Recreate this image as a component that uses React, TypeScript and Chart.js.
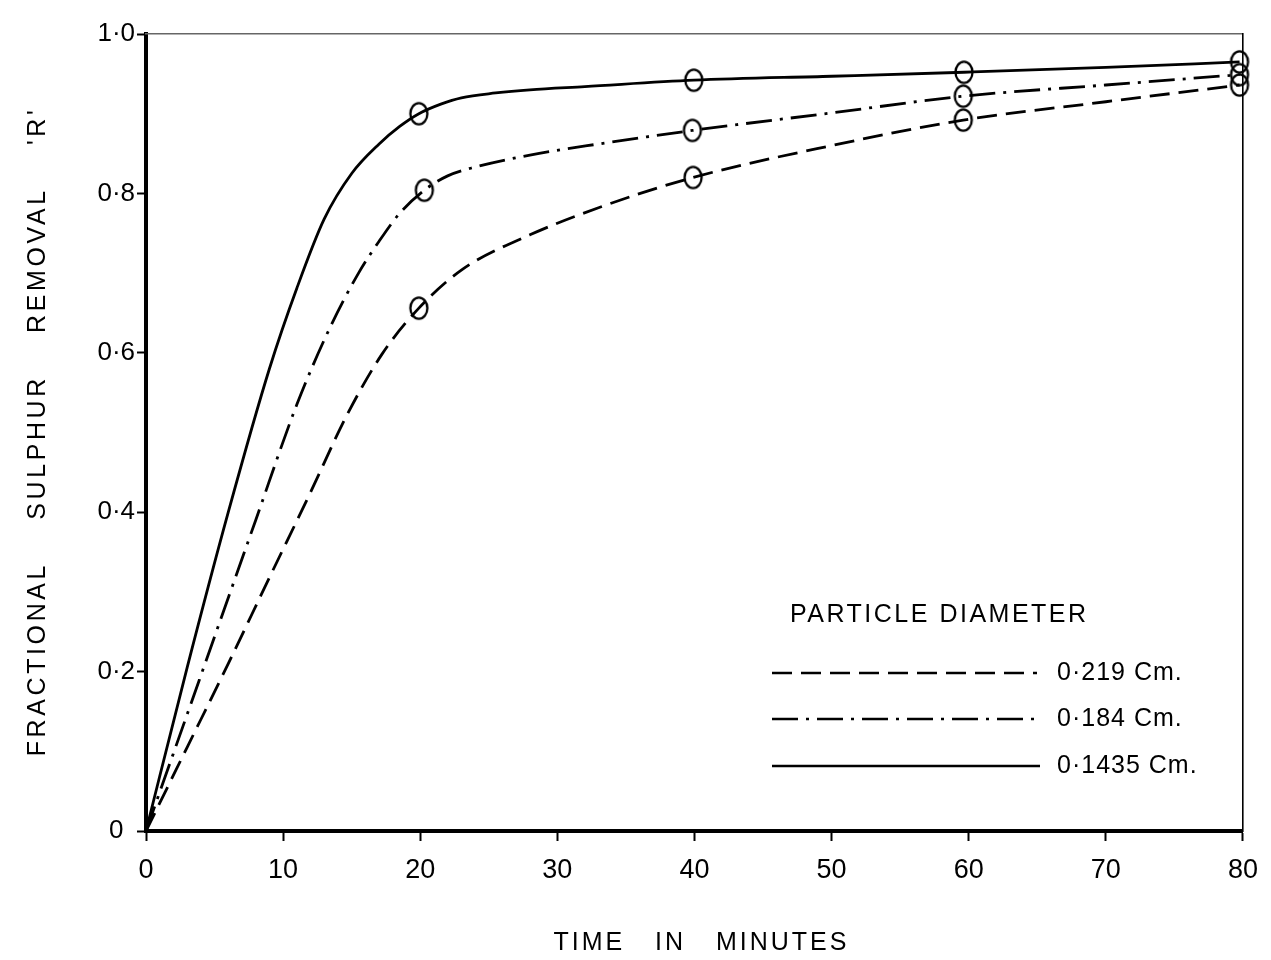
import React, { useEffect, useRef } from "react";
import { Chart, registerables } from "chart.js";

Chart.register(...registerables);

// ---------- data ----------
const xTickValues = [0, 10, 20, 30, 40, 50, 60, 70, 80];
const yTickValues = [0, 0.2, 0.4, 0.6, 0.8, 1.0];
const yTickLabels = ["0", "0·2", "0·4", "0·6", "0·8", "1·0"];

const seriesNames = ["0·219 Cm.", "0·184 Cm.", "0·1435 Cm."];
const legendTitle = "PARTICLE DIAMETER";
const xTitle = "TIME   IN   MINUTES";
const yTitle = "FRACTIONAL    SULPHUR    REMOVAL    'R'";

// measured points (circles)
const timeD219 = [19.9, 39.9, 59.6, 79.75];
const removalD219 = [0.656, 0.82, 0.892, 0.936];
const timeD184 = [20.3, 39.85, 59.6, 79.75];
const removalD184 = [0.804, 0.879, 0.922, 0.949];
const timeD1435 = [19.9, 39.95, 59.65, 79.75];
const removalD1435 = [0.9, 0.942, 0.952, 0.965];

// drawn curves
const curveTimeD219 = [0, 3, 6, 9, 12, 14.6, 17.2, 19.9, 23.1, 28, 33, 39.9, 50, 59.6, 70, 79.75];
const curveRemovalD219 = [0, 0.105, 0.21, 0.318, 0.425, 0.52, 0.598, 0.656, 0.705, 0.748, 0.782, 0.82, 0.86, 0.892, 0.915, 0.936];
const curveTimeD184 = [0, 4, 8, 11, 13.4, 15.5, 17.0, 18.5, 20.3, 22, 24, 28, 33, 39.85, 50, 59.6, 70, 79.75];
const curveRemovalD184 = [0, 0.195, 0.39, 0.535, 0.631, 0.7, 0.74, 0.775, 0.804, 0.822, 0.833, 0.848, 0.862, 0.879, 0.901, 0.922, 0.936, 0.949];
const curveTimeD1435 = [0, 3, 6, 9, 11, 13, 15, 17, 18.5, 19.9, 21.5, 23, 25.5, 28, 32, 39.95, 50, 59.65, 70, 79.75];
const curveRemovalD1435 = [0, 0.205, 0.4, 0.58, 0.681, 0.768, 0.825, 0.862, 0.884, 0.9, 0.912, 0.92, 0.926, 0.93, 0.934, 0.942, 0.947, 0.952, 0.958, 0.965];

// ---------- styles ----------
const FONT = "'Liberation Sans', Arial, sans-serif";
const DASH_219 = [20, 9];
const DASH_184 = [26, 8, 3, 8];
const DASH_1435: number[] = [];

function zip(xs: number[], ys: number[]) {
  return xs.map((x, i) => ({ x, y: ys[i] }));
}

function makeEllipse(): HTMLCanvasElement {
  const c = document.createElement("canvas");
  c.width = 22;
  c.height = 26;
  const g = c.getContext("2d")!;
  g.lineWidth = 2.3;
  g.strokeStyle = "#000";
  g.beginPath();
  g.ellipse(11, 13, 8.5, 10.6, 0, 0, Math.PI * 2);
  g.stroke();
  return c;
}

const overlayPlugin = {
  id: "overlay",
  afterDraw(chart: any) {
    const ctx = chart.ctx as CanvasRenderingContext2D;
    const { left, right, top, bottom } = chart.chartArea;
    ctx.save();
    ctx.fillStyle = "#000";
    ctx.strokeStyle = "#000";
    (ctx as any).letterSpacing = "3px";
    ctx.font = `25px ${FONT}`;
    ctx.textBaseline = "middle";

    // x title
    ctx.textAlign = "center";
    ctx.fillText(xTitle, (left + right) / 2 + 7, bottom + 112);

    // y title
    (ctx as any).letterSpacing = "3.6px";
    ctx.save();
    ctx.translate(38, (top + bottom) / 2 - 1);
    ctx.rotate(-Math.PI / 2);
    ctx.fillText(yTitle, 0, 0);
    ctx.restore();

    // legend
    (ctx as any).letterSpacing = "2.5px";
    ctx.textAlign = "left";
    ctx.fillText(legendTitle, left + 644, top + 581);
    (ctx as any).letterSpacing = "1px";
    const dashes = [DASH_219, DASH_184, DASH_1435];
    const rows = [top + 639, top + 685, top + 732];
    const lineEnds = [left + 891, left + 894, left + 894];
    seriesNames.forEach((name, i) => {
      ctx.save();
      ctx.lineWidth = 2.6;
      ctx.setLineDash(dashes[i]);
      ctx.beginPath();
      ctx.moveTo(left + 626, rows[i]);
      ctx.lineTo(lineEnds[i], rows[i]);
      ctx.stroke();
      ctx.restore();
      ctx.fillText(name, left + 911, rows[i]);
    });
    ctx.restore();
  },
};

export default function App() {
  const ref = useRef<HTMLCanvasElement | null>(null);

  useEffect(() => {
    document.body.style.margin = "0";
    const canvas = ref.current;
    if (!canvas) return;
    const marker = makeEllipse();

    const curve = (label: string, xs: number[], ys: number[], dash: number[]) => ({
      type: "line" as const,
      label,
      data: zip(xs, ys),
      borderColor: "#000",
      borderWidth: 2.8,
      borderDash: dash,
      pointRadius: 0,
      fill: false,
      cubicInterpolationMode: "monotone" as const,
      xAxisID: "x",
      yAxisID: "y",
    });
    const points = (label: string, xs: number[], ys: number[]) => ({
      type: "scatter" as const,
      label,
      data: zip(xs, ys),
      pointStyle: marker,
      pointRadius: 11,
      showLine: false,
      clip: false,
      xAxisID: "x",
      yAxisID: "y",
    });

    const chart = new Chart(canvas, {
      type: "line",
      data: {
        datasets: [
          curve(seriesNames[0], curveTimeD219, curveRemovalD219, DASH_219),
          curve(seriesNames[1], curveTimeD184, curveRemovalD184, DASH_184),
          curve(seriesNames[2], curveTimeD1435, curveRemovalD1435, DASH_1435),
          points(seriesNames[0], timeD219, removalD219),
          points(seriesNames[1], timeD184, removalD184),
          points(seriesNames[2], timeD1435, removalD1435),
        ] as any,
      },
      options: {
        responsive: false,
        animation: false,
        devicePixelRatio: 1,
        layout: { padding: 0 },
        plugins: {
          legend: { display: false },
          tooltip: { enabled: false },
        },
        scales: {
          x: {
            type: "linear",
            position: "bottom",
            min: 0,
            max: 80,
            afterBuildTicks: (s: any) => {
              s.ticks = xTickValues.map((v) => ({ value: v }));
            },
            afterFit: (s: any) => {
              s.height = 129;
            },
            grid: { drawOnChartArea: false, drawTicks: true, tickLength: 10, tickWidth: 2, tickColor: "#000" },
            border: { display: true, color: "#000", width: 4 },
            ticks: {
              color: "#000",
              font: { family: FONT, size: 27 },
              padding: 13,
              maxRotation: 0,
              autoSkip: false,
              callback: (v: any) => String(v),
            },
          },
          y: {
            type: "linear",
            position: "left",
            min: 0,
            max: 1,
            afterBuildTicks: (s: any) => {
              s.ticks = yTickValues.map((v) => ({ value: v }));
            },
            afterFit: (s: any) => {
              s.width = 146;
            },
            grid: { drawOnChartArea: false, drawTicks: true, tickLength: 9, tickWidth: 2, tickColor: "#000" },
            border: { display: true, color: "#000", width: 4 },
            ticks: {
              color: "#000",
              font: { family: FONT, size: 26 },
              padding: 2,
              crossAlign: "center",
              autoSkip: false,
              callback: (v: any) => {
                const i = yTickValues.findIndex((t) => Math.abs(t - v) < 1e-6);
                return i >= 0 ? yTickLabels[i] : "";
              },
            },
          },
          x2: {
            type: "linear",
            position: "top",
            min: 0,
            max: 80,
            afterFit: (s: any) => {
              s.height = 34;
            },
            grid: { display: false },
            border: { display: true, color: "#666", width: 1.4, dash: [30, 16] },
            ticks: { display: false },
          },
          y2: {
            type: "linear",
            position: "right",
            min: 0,
            max: 1,
            afterFit: (s: any) => {
              s.width = 27;
            },
            grid: { display: false },
            border: { display: true, color: "#000", width: 1.6 },
            ticks: { display: false },
          },
        },
      } as any,
      plugins: [overlayPlugin],
    });

    return () => chart.destroy();
  }, []);

  return (
    <div style={{ width: 1271, height: 960, background: "#fff" }}>
      <canvas ref={ref} width={1271} height={960} style={{ display: "block" }} />
    </div>
  );
}
